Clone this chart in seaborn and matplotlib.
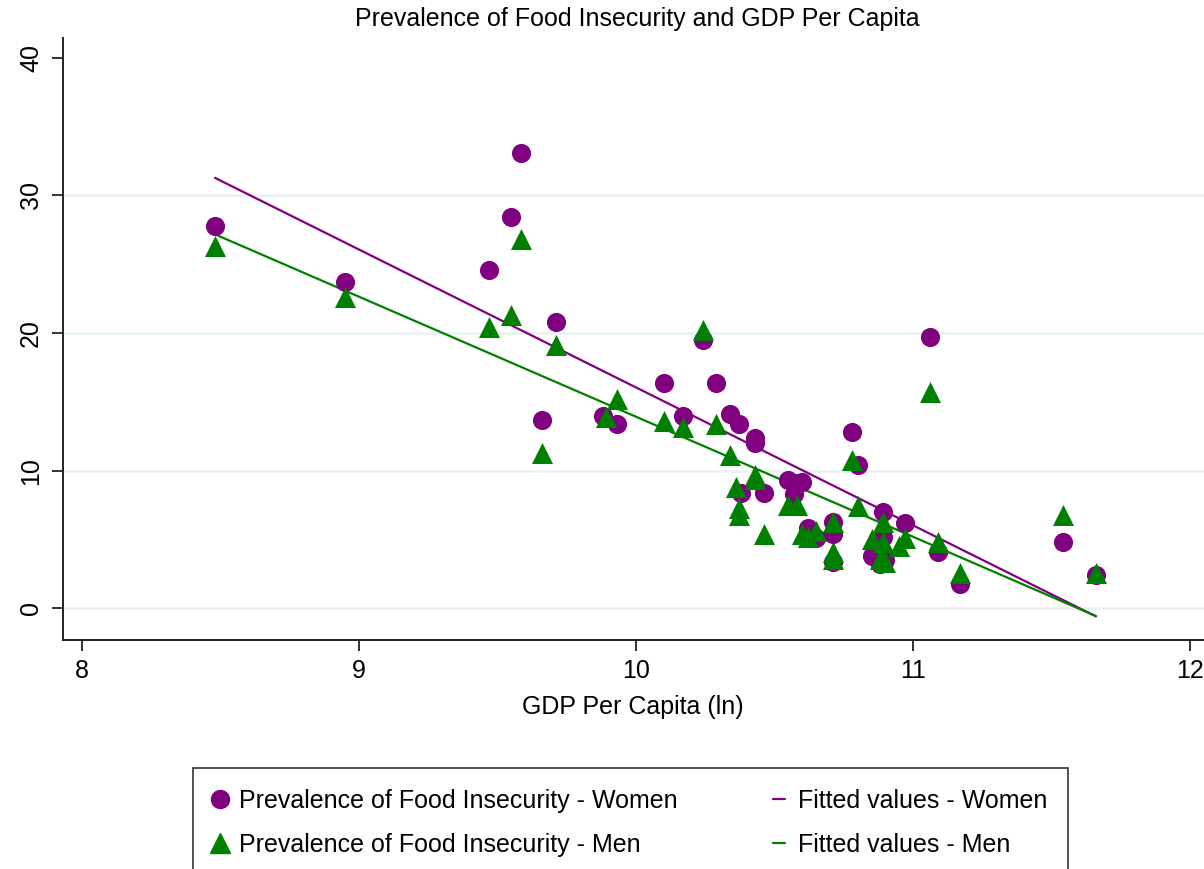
import matplotlib
matplotlib.use("Agg")
import matplotlib.pyplot as plt
import seaborn as sns
import pandas as pd
from matplotlib.lines import Line2D

# ---- data ----
women_gdp = [8.48, 8.95, 9.47, 9.55, 9.585, 9.71, 9.66, 9.88, 9.93, 10.10,
             10.17, 10.24, 10.29, 10.34, 10.37, 10.43, 10.43, 10.38, 10.46, 10.55,
             10.58, 10.60, 10.57, 10.62, 10.65, 10.71, 10.71, 10.71, 10.78, 10.80,
             10.89, 10.97, 10.89, 10.85, 10.88, 10.90, 11.09, 11.06, 11.17, 11.54,
             11.66]
women_fi = [27.8, 23.7, 24.6, 28.4, 33.1, 20.8, 13.7, 14.0, 13.4, 16.4,
            14.0, 19.5, 16.4, 14.1, 13.4, 12.4, 12.0, 8.4, 8.4, 9.3,
            9.1, 9.2, 8.3, 5.8, 5.1, 6.3, 5.4, 3.4, 12.8, 10.4,
            7.0, 6.2, 5.2, 3.8, 3.2, 3.5, 4.1, 19.7, 1.8, 4.8,
            2.4]
men_gdp = [8.48, 8.95, 9.47, 9.55, 9.585, 9.71, 9.66, 9.89, 9.93, 10.10,
           10.17, 10.24, 10.29, 10.34, 10.43, 10.43, 10.36, 10.37, 10.37, 10.46,
           10.55, 10.58, 10.60, 10.62, 10.65, 10.71, 10.71, 10.71, 10.78, 10.80,
           10.89, 10.85, 10.89, 10.88, 10.90, 10.95, 10.97, 11.09, 11.06, 11.17,
           11.54, 11.66]
men_fi = [26.3, 22.6, 20.4, 21.3, 26.8, 19.1, 11.3, 13.9, 15.2, 13.6,
          13.2, 20.2, 13.4, 11.1, 9.7, 9.4, 8.8, 7.3, 6.8, 5.4,
          7.5, 7.5, 5.4, 5.2, 5.6, 6.3, 4.1, 3.6, 10.8, 7.4,
          6.3, 5.0, 4.8, 3.6, 3.4, 4.5, 5.1, 4.8, 15.7, 2.6,
          6.8, 2.6]

x_ticks = [8, 9, 10, 11, 12]
y_ticks = [0, 10, 20, 30, 40]

title = "Prevalence of Food Insecurity and GDP Per Capita"
xlabel = "GDP Per Capita (ln)"
lab_w = "Prevalence of Food Insecurity - Women"
lab_m = "Prevalence of Food Insecurity - Men"
lab_fw = "Fitted values - Women"
lab_fm = "Fitted values - Men"

PURPLE = "#800080"
GREEN = "#008000"

df_w = pd.DataFrame({"gdp": women_gdp, "fi": women_fi})
df_m = pd.DataFrame({"gdp": men_gdp, "fi": men_fi})

sns.set_theme(style="white")
plt.rcParams["font.family"] = ["Liberation Sans", "DejaVu Sans"]
plt.rcParams["text.color"] = "black"
plt.rcParams["axes.labelcolor"] = "black"
plt.rcParams["xtick.color"] = "black"
plt.rcParams["ytick.color"] = "black"

fig = plt.figure(figsize=(12.04, 8.69), dpi=100)
ax = fig.add_axes([0.052, 0.2635, 0.948, 0.6925])

for yv in y_ticks[:-1]:
    ax.axhline(yv, color="#EAF2F3", lw=2, zorder=0)

sns.regplot(data=df_w, x="gdp", y="fi", scatter=False, ci=None, truncate=True,
            color=PURPLE, line_kws={"lw": 1.6, "zorder": 2}, ax=ax)
sns.regplot(data=df_m, x="gdp", y="fi", scatter=False, ci=None, truncate=True,
            color=GREEN, line_kws={"lw": 1.6, "zorder": 2}, ax=ax)

sns.scatterplot(data=df_w, x="gdp", y="fi", marker="o", s=190, color=PURPLE,
                linewidth=0, ax=ax, zorder=3)
sns.scatterplot(data=df_m, x="gdp", y="fi", marker="^", s=230, color=GREEN,
                linewidth=0, ax=ax, zorder=4)

ax.set_xlim(7.93, 12.05)
ax.set_ylim(-2.3, 41.4)
ax.set_xticks(x_ticks)
ax.set_yticks(y_ticks)
ax.set_xlabel(xlabel, fontsize=18, labelpad=8)
ax.set_ylabel("")
ax.tick_params(axis="both", direction="out", length=8, width=1.3, color="#222222",
               labelsize=18, pad=6, left=True, bottom=True)
for lbl in ax.get_yticklabels():
    lbl.set_rotation(90)
    lbl.set_va("center")
for s in ["top", "right"]:
    ax.spines[s].set_visible(False)
for s in ["left", "bottom"]:
    ax.spines[s].set_color("#222222")
    ax.spines[s].set_linewidth(1.4)

fig.text(0.529, 0.978, title, ha="center", va="center", fontsize=18)

handles = [
    Line2D([], [], marker="o", ls="", color=PURPLE, markersize=13),
    Line2D([], [], marker="^", ls="", color=GREEN, markersize=14),
    Line2D([], [], color=PURPLE, lw=1.6),
    Line2D([], [], color=GREEN, lw=1.6),
]
labels = [lab_w, lab_m, lab_fw, lab_fm]
leg = fig.legend(handles, labels, ncol=2, loc="upper left",
                 bbox_to_anchor=(0.160, 0.1165), fontsize=18, frameon=True,
                 fancybox=False, edgecolor="black", borderpad=0.85,
                 labelspacing=0.78, columnspacing=3.8, handlelength=0.5,
                 handletextpad=0.5, borderaxespad=0)
leg.get_frame().set_linewidth(1.2)

fig.savefig("out.png", dpi=100, facecolor="white")
